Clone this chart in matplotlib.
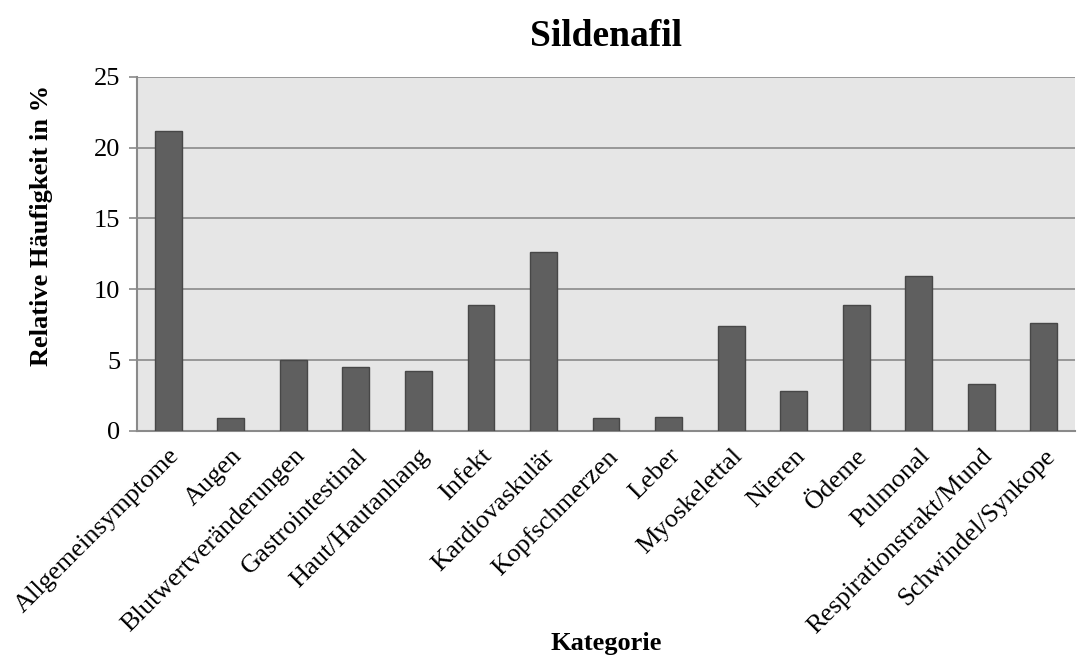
import matplotlib.pyplot as plt

# Daten
kategorien = ['Allgemeinsymptome', 'Augen', 'Blutwertveränderungen', 'Gastrointestinal',
              'Haut/Hautanhang', 'Infekt', 'Kardiovaskulär', 'Kopfschmerzen', 'Leber',
              'Myoskelettal', 'Nieren', 'Ödeme', 'Pulmonal', 'Respirationstrakt/Mund',
              'Schwindel/Synkope']
haeufigkeit = [21.2, 0.9, 5.0, 4.5, 4.2, 8.9, 12.6, 0.9, 1.0, 7.4, 2.8, 8.9, 10.9, 3.3, 7.6]
y_ticks = [0, 5, 10, 15, 20, 25]

plt.rcParams['font.family'] = ['Liberation Serif', 'DejaVu Serif']

fig = plt.figure(figsize=(10.85, 6.61), dpi=100)
ax = fig.add_axes([0.1263, 0.348, 0.8645, 0.536])
ax.set_facecolor('#e6e6e6')

x = range(len(kategorien))
ax.bar(x, haeufigkeit, width=0.43, color='#5f5f5f', edgecolor='#474747', linewidth=1, zorder=3)

ax.set_xlim(-0.5, len(kategorien) - 0.5)
ax.set_ylim(0, 25)
ax.set_yticks(y_ticks)
ax.yaxis.grid(True, color='#8a8a8a', linewidth=1.2, zorder=0)
ax.set_axisbelow(True)

ax.set_xticks(list(x))
ax.set_xticklabels(kategorien, rotation=45, ha='right', rotation_mode='anchor', fontsize=19)
ax.tick_params(axis='x', length=0, pad=10)
ax.tick_params(axis='y', labelsize=19, length=6, color='#8a8a8a', width=1.2, pad=6)

for s in ['top', 'right']:
    ax.spines[s].set_visible(False)
for s in ['left', 'bottom']:
    ax.spines[s].set_color('#8a8a8a')
    ax.spines[s].set_linewidth(1.5)

ax.set_title('Sildenafil', fontsize=27, fontweight='bold', pad=22)
ax.set_ylabel('Relative Häufigkeit in %', fontsize=19, fontweight='bold')
ax.yaxis.set_label_coords(-0.09, 0.579)
ax.set_xlabel('Kategorie', fontsize=19, fontweight='bold', labelpad=-4)

fig.savefig('out.png', dpi=100)
